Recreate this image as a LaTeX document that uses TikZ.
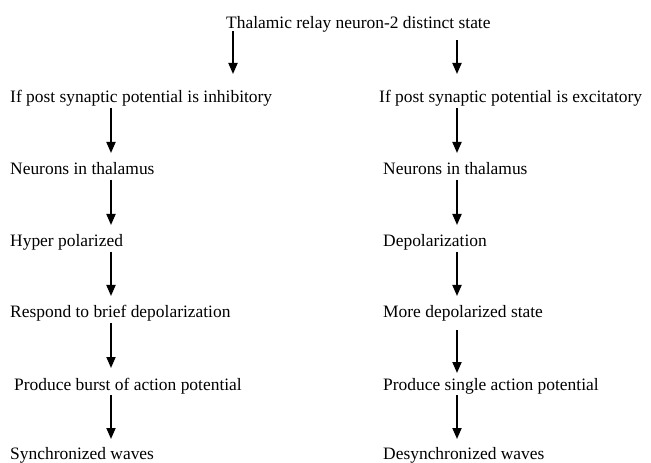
\documentclass[tikz,border=0pt]{standalone}
\usepackage{fontspec}
\setmainfont{Liberation Serif}
\usetikzlibrary{arrows.meta}
\begin{document}
\begin{tikzpicture}[x=1bp,y=-1bp,
  lbl/.style={anchor=base west, inner sep=0pt, font=\fontsize{17.5}{20}\selectfont},
  arr/.style={line width=1.8bp, -{Triangle[length=11bp,width=9bp]}}]
\useasboundingbox (0,0) rectangle (651,463);
\coordinate (colL) at (111,0);
\coordinate (colR) at (457,0);
\coordinate (topL) at (233,0);

\node[lbl] (top) at (226,29) {Thalamic relay neuron-2 distinct state};

% inhibitory branch
\node[lbl] (l1) at (10,103) {If post synaptic potential is inhibitory};
\node[lbl] (l2) at (10,175) {Neurons in thalamus};
\node[lbl] (l3) at (10,247) {Hyper polarized};
\node[lbl] (l4) at (10,318) {Respond to brief depolarization};
\node[lbl] (l5) at (14,390) {Produce burst of action potential};
\node[lbl] (l6) at (10,459) {Synchronized waves};

% excitatory branch
\node[lbl] (r1) at (379,103) {If post synaptic potential is excitatory};
\node[lbl] (r2) at (383,175) {Neurons in thalamus};
\node[lbl] (r3) at (383,247) {Depolarization};
\node[lbl] (r4) at (383,318) {More depolarized state};
\node[lbl] (r5) at (383,390) {Produce single action potential};
\node[lbl] (r6) at (383,459) {Desynchronized waves};

\draw[arr] ([yshift=-2bp]top.base -| topL) -- ([yshift=29bp]l1.base -| topL);
\draw[arr] ([yshift=-11bp]top.base -| colR) -- ([yshift=29bp]r1.base -| colR);

\foreach \a/\b in {l1/l2,l2/l3,l3/l4,l4/l5}
  \draw[arr] ([yshift=-5bp]\a.base -| colL) -- ([yshift=22bp]\b.base -| colL);
\draw[arr] ([yshift=-5bp]l5.base -| colL) -- ([yshift=20bp]l6.base -| colL);
\foreach \a/\b in {r1/r2,r2/r3,r3/r4}
  \draw[arr] ([yshift=-5bp]\a.base -| colR) -- ([yshift=22bp]\b.base -| colR);
\draw[arr] ([yshift=-12bp]r4.base -| colR) -- ([yshift=17bp]r5.base -| colR);
\draw[arr] ([yshift=-5bp]r5.base -| colR) -- ([yshift=20bp]r6.base -| colR);
\end{tikzpicture}
\end{document}
